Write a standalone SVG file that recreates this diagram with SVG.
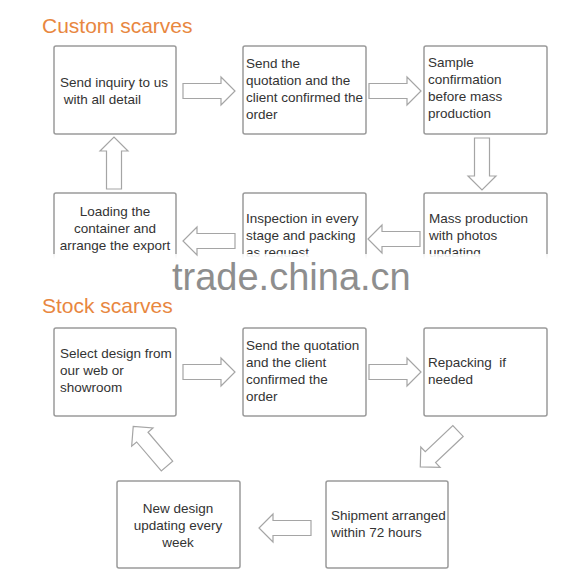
<svg xmlns="http://www.w3.org/2000/svg" xmlns:xlink="http://www.w3.org/1999/xlink" width="586" height="584" viewBox="0 0 586 584">
<style>
.box{fill:#fff;stroke:#9a9a9a;stroke-width:1.5}
.t{font-family:"Liberation Sans",Arial,sans-serif;font-size:13.5px;fill:#333;white-space:pre}
.c{text-anchor:middle}
.title{font-family:"Liberation Sans",Arial,sans-serif;font-size:21px;fill:#E8873F}
.arr{fill:#fff;stroke:#a5a5a5;stroke-width:1.2;stroke-linejoin:miter}
</style>
<defs>
<path id="ar" d="M0,-7.5 H38 V-14 L52,0 L38,14 V7.5 H0 Z"/>
<linearGradient id="band" x1="0" y1="0" x2="0" y2="1">
<stop offset="0" stop-color="#fff" stop-opacity="0.85"/>
<stop offset="0.15" stop-color="#fff" stop-opacity="1"/>
<stop offset="0.85" stop-color="#fff" stop-opacity="1"/>
<stop offset="1" stop-color="#fff" stop-opacity="0.6"/>
</linearGradient>
</defs>
<rect width="586" height="584" fill="#fff"/>
<text class="title" x="42" y="33">Custom scarves</text>

<g id="n1"><rect class="box" x="54" y="46" width="122" height="88" rx="2"/>
<text class="t" x="60" y="87">Send inquiry to us</text><text class="t" x="60" y="104"> with all detail</text></g>
<g id="n2"><rect class="box" x="243" y="46" width="123" height="88" rx="2"/>
<text class="t" x="246" y="68">Send the</text><text class="t" x="246" y="85">quotation and the</text><text class="t" x="246" y="102">client confirmed the</text><text class="t" x="246" y="119">order</text></g>
<g id="n3"><rect class="box" x="424" y="46" width="123" height="88" rx="2"/>
<text class="t" x="428" y="67">Sample</text><text class="t" x="428" y="84">confirmation</text><text class="t" x="428" y="101">before mass</text><text class="t" x="428" y="118">production</text></g>
<g id="n4"><rect class="box" x="424" y="193" width="123" height="88" rx="2"/>
<text class="t" x="429" y="223">Mass production</text><text class="t" x="429" y="240">with photos</text><text class="t" x="429" y="257">updating</text></g>
<g id="n5"><rect class="box" x="243" y="193" width="123" height="88" rx="2"/>
<text class="t" x="246" y="223">Inspection in every</text><text class="t" x="246" y="240">stage and packing</text><text class="t" x="246" y="257">as request</text></g>
<g id="n6"><rect class="box" x="54" y="193" width="122" height="88" rx="2"/>
<text class="t c" x="115" y="216">Loading the</text><text class="t c" x="115" y="233">container and</text><text class="t c" x="115" y="250">arrange the export</text></g>

<rect x="30" y="254" width="540" height="34" fill="url(#band)"/>
<text x="172" y="290" font-family="Liberation Sans,Arial,sans-serif" font-size="38" fill="#8e8e8e">trade.china.cn</text>

<text class="title" x="42" y="313">Stock scarves</text>

<g id="s1"><rect class="box" x="54" y="328" width="122" height="88" rx="2"/>
<text class="t" x="60" y="358">Select design from</text><text class="t" x="60" y="375">our web or</text><text class="t" x="60" y="392">showroom</text></g>
<g id="s2"><rect class="box" x="243" y="328" width="123" height="88" rx="2"/>
<text class="t" x="246" y="350">Send the quotation</text><text class="t" x="246" y="367">and the client</text><text class="t" x="246" y="384">confirmed the</text><text class="t" x="246" y="401">order</text></g>
<g id="s3"><rect class="box" x="424" y="328" width="123" height="88" rx="2"/>
<text class="t" x="428" y="367">Repacking  if</text><text class="t" x="428" y="384">needed</text></g>
<g id="s4"><rect class="box" x="326" y="481" width="122" height="87" rx="2"/>
<text class="t" x="331" y="520">Shipment arranged</text><text class="t" x="331" y="537">within 72 hours</text></g>
<g id="s5"><rect class="box" x="117" y="481" width="123" height="87" rx="2"/>
<text class="t c" x="178" y="513">New design</text><text class="t c" x="178" y="530">updating every</text><text class="t c" x="178" y="547">week</text></g>

<g id="connectors">
<use xlink:href="#ar" class="arr" transform="translate(183,91)"/>
<use xlink:href="#ar" class="arr" transform="translate(369,91)"/>
<use xlink:href="#ar" class="arr" transform="translate(482,138) rotate(90)"/>
<use xlink:href="#ar" class="arr" transform="translate(420,239) rotate(180)"/>
<use xlink:href="#ar" class="arr" transform="translate(235,241) rotate(180)"/>
<use xlink:href="#ar" class="arr" transform="translate(114,189) rotate(-90)"/>
<use xlink:href="#ar" class="arr" transform="translate(183,372)"/>
<use xlink:href="#ar" class="arr" transform="translate(369,372)"/>
<use xlink:href="#ar" class="arr" transform="translate(458,431) rotate(136.5)"/>
<use xlink:href="#ar" class="arr" transform="translate(311,528) rotate(180)"/>
<use xlink:href="#ar" class="arr" transform="translate(167,466) rotate(229.5)"/>
</g>
</svg>
